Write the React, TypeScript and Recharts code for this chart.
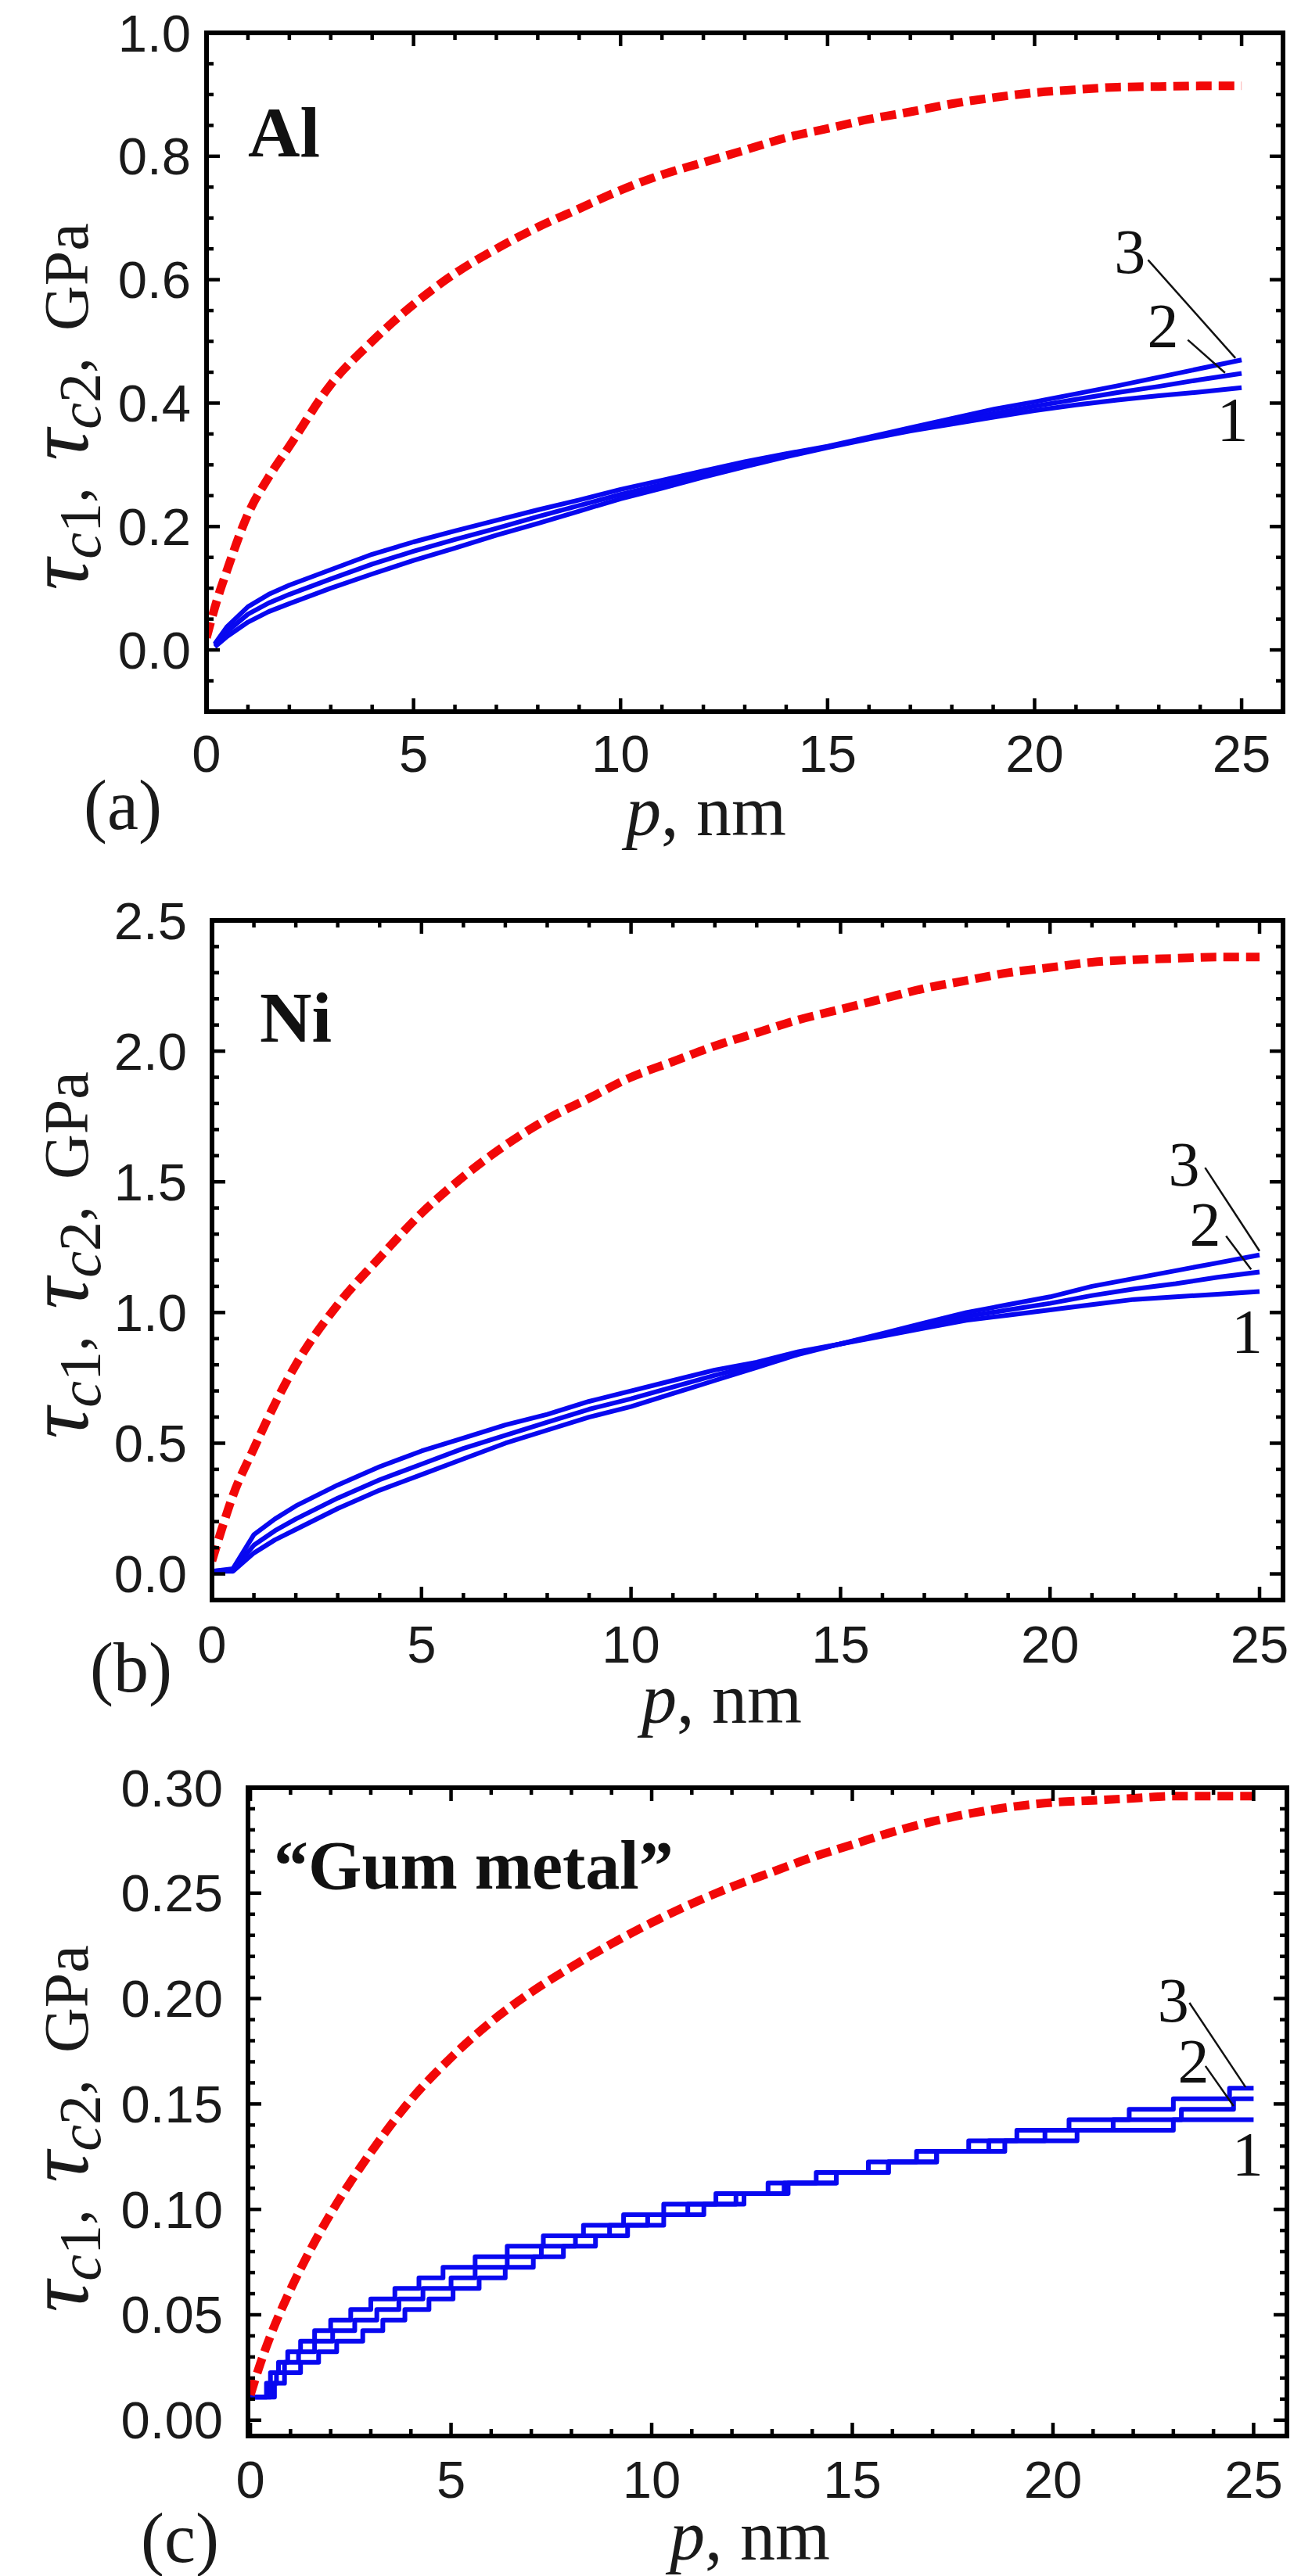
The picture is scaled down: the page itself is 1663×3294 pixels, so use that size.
import React from 'react';
import { LineChart, Line, XAxis, YAxis, ReferenceLine, ReferenceDot } from 'recharts';

const SANS = '"Liberation Sans", Arial, sans-serif';
const SERIF = '"Liberation Serif", "Times New Roman", serif';
const RED = '#f20808';
const BLUE = '#0808f0';

// ---------- (a) Al ----------
const AL_RED_P = [0, 0.25, 0.5, 1, 1.5, 2, 3, 4, 5, 6, 7, 8, 9, 10, 11, 12, 13, 14, 15, 16, 17, 18, 19, 20, 21, 22, 23, 24, 25];
const AL_RED = [0.02, 0.08, 0.13, 0.22, 0.28, 0.33, 0.43, 0.5, 0.56, 0.61, 0.65, 0.685, 0.715, 0.745, 0.77, 0.79, 0.81, 0.83, 0.845, 0.86, 0.872, 0.885, 0.895, 0.903, 0.908, 0.912, 0.913, 0.914, 0.914];
const AL_BLUE_P = [0.2, 0.5, 1, 1.5, 2, 3, 4, 5, 6, 7, 8, 9, 10, 11, 12, 13, 14, 15, 16, 17, 18, 19, 20, 21, 22, 23, 24, 25];
const AL_B1 = [0.005, 0.022, 0.045, 0.062, 0.075, 0.1, 0.123, 0.145, 0.165, 0.186, 0.205, 0.225, 0.245, 0.262, 0.28, 0.297, 0.313, 0.328, 0.342, 0.355, 0.366, 0.377, 0.388, 0.397, 0.405, 0.412, 0.418, 0.425];
const AL_B2 = [0.008, 0.03, 0.058, 0.076, 0.09, 0.115, 0.139, 0.16, 0.179, 0.197, 0.216, 0.234, 0.252, 0.268, 0.285, 0.301, 0.315, 0.329, 0.343, 0.357, 0.37, 0.383, 0.395, 0.406, 0.417, 0.427, 0.438, 0.448];
const AL_B3 = [0.01, 0.038, 0.07, 0.09, 0.105, 0.13, 0.155, 0.175, 0.193, 0.21, 0.227, 0.243, 0.26, 0.275, 0.29, 0.305, 0.318, 0.33, 0.345, 0.36, 0.375, 0.39, 0.402, 0.415, 0.428, 0.442, 0.456, 0.47];
const AL_Y_TICKS = [-0.1, -0.05, 0, 0.05, 0.1, 0.15, 0.2, 0.25, 0.3, 0.35, 0.4, 0.45, 0.5, 0.55, 0.6, 0.65, 0.7, 0.75, 0.8, 0.85, 0.9, 0.95, 1.0];
const AL_Y_LABELS = [0, 0.2, 0.4, 0.6, 0.8, 1.0];

// ---------- (b) Ni ----------
const NI_RED_P = [0, 0.25, 0.5, 1, 1.5, 2, 3, 4, 5, 6, 7, 8, 9, 10, 11, 12, 13, 14, 15, 16, 17, 18, 19, 20, 21, 22, 23, 24, 25];
const NI_RED = [0.05, 0.18, 0.3, 0.48, 0.65, 0.8, 1.03, 1.21, 1.38, 1.52, 1.64, 1.74, 1.82, 1.9, 1.96, 2.02, 2.07, 2.12, 2.16, 2.2, 2.24, 2.27, 2.3, 2.32, 2.34, 2.35, 2.355, 2.36, 2.36];
const NI_BLUE_P = [0, 0.5, 1, 1.5, 2, 3, 4, 5, 6, 7, 8, 9, 10, 11, 12, 13, 14, 15, 16, 17, 18, 19, 20, 21, 22, 23, 24, 25];
const NI_B1 = [0.01, 0.01, 0.08, 0.13, 0.17, 0.25, 0.32, 0.38, 0.44, 0.5, 0.55, 0.6, 0.64, 0.69, 0.74, 0.79, 0.84, 0.88, 0.91, 0.94, 0.97, 0.99, 1.01, 1.03, 1.05, 1.06, 1.07, 1.08];
const NI_B2 = [0.01, 0.015, 0.11, 0.165, 0.21, 0.29, 0.36, 0.42, 0.48, 0.53, 0.58, 0.63, 0.67, 0.715, 0.76, 0.8, 0.845, 0.88, 0.915, 0.95, 0.985, 1.01, 1.035, 1.065, 1.09, 1.11, 1.135, 1.155];
const NI_B3 = [0.01, 0.02, 0.15, 0.21, 0.26, 0.34, 0.41, 0.47, 0.52, 0.57, 0.61, 0.66, 0.7, 0.74, 0.78, 0.81, 0.85, 0.88, 0.92, 0.96, 1.0, 1.03, 1.06, 1.1, 1.13, 1.16, 1.19, 1.22];
const NI_Y_TICKS = [-0.1, 0, 0.1, 0.2, 0.3, 0.4, 0.5, 0.6, 0.7, 0.8, 0.9, 1.0, 1.1, 1.2, 1.3, 1.4, 1.5, 1.6, 1.7, 1.8, 1.9, 2.0, 2.1, 2.2, 2.3, 2.4, 2.5];
const NI_Y_LABELS = [0, 0.5, 1.0, 1.5, 2.0, 2.5];

// ---------- (c) Gum metal ----------
const GUM_RED_P = [0, 0.25, 0.5, 1, 1.5, 2, 3, 4, 5, 6, 7, 8, 9, 10, 11, 12, 13, 14, 15, 16, 17, 18, 19, 20, 21, 22, 23, 24, 25];
const GUM_RED = [0.012, 0.027, 0.04, 0.062, 0.081, 0.098, 0.127, 0.152, 0.172, 0.189, 0.203, 0.215, 0.226, 0.236, 0.245, 0.253, 0.26, 0.267, 0.273, 0.279, 0.284, 0.288, 0.291, 0.293, 0.294, 0.295, 0.296, 0.296, 0.296];
// step curves: p where each step starts, and the level
const GUM_B1_P = [0, 0.6, 0.85, 1.25, 1.7, 2.15, 2.8, 3.3, 3.85, 4.45, 5.05, 5.7, 6.35, 7.05, 7.8, 8.6, 9.4, 10.3, 11.3, 12.3, 13.3, 14.6, 15.9, 17.1, 18.8, 20.6, 23.0, 25];
const GUM_B1 = [0.011, 0.0175, 0.0225, 0.0275, 0.0325, 0.0375, 0.0425, 0.0475, 0.0525, 0.0575, 0.0625, 0.0675, 0.0725, 0.0775, 0.0825, 0.0875, 0.0925, 0.0975, 0.1025, 0.1075, 0.1125, 0.1175, 0.1225, 0.1275, 0.1325, 0.1375, 0.1425, 0.1425];
const GUM_B2_P = [0, 0.5, 0.65, 0.85, 1.2, 1.6, 2.05, 2.6, 3.15, 3.7, 4.3, 5.0, 5.6, 6.4, 7.25, 8.1, 8.95, 9.9, 10.9, 12.1, 13.4, 14.6, 15.9, 17.1, 18.4, 19.8, 21.5, 23.2, 24.5, 25];
const GUM_B2 = [0.011, 0.0175, 0.0225, 0.0275, 0.0325, 0.0375, 0.0425, 0.0475, 0.0525, 0.0575, 0.0625, 0.0675, 0.0725, 0.0775, 0.0825, 0.0875, 0.0925, 0.0975, 0.1025, 0.1075, 0.1125, 0.1175, 0.1225, 0.1275, 0.1325, 0.1375, 0.1425, 0.1475, 0.1525, 0.1525];
const GUM_B3_P = [0, 0.4, 0.5, 0.7, 0.93, 1.25, 1.6, 2.0, 2.5, 3.0, 3.6, 4.2, 4.8, 5.6, 6.4, 7.3, 8.3, 9.3, 10.3, 11.6, 12.9, 14.1, 15.4, 16.6, 17.9, 19.1, 20.4, 21.9, 23.0, 24.4, 25];
const GUM_B3 = [0.011, 0.0175, 0.0225, 0.0275, 0.0325, 0.0375, 0.0425, 0.0475, 0.0525, 0.0575, 0.0625, 0.0675, 0.0725, 0.0775, 0.0825, 0.0875, 0.0925, 0.0975, 0.1025, 0.1075, 0.1125, 0.1175, 0.1225, 0.1275, 0.1325, 0.1375, 0.1425, 0.1475, 0.1525, 0.1575, 0.1575];
const GUM_Y_TICKS = [0, 0.01, 0.02, 0.03, 0.04, 0.05, 0.06, 0.07, 0.08, 0.09, 0.1, 0.11, 0.12, 0.13, 0.14, 0.15, 0.16, 0.17, 0.18, 0.19, 0.2, 0.21, 0.22, 0.23, 0.24, 0.25, 0.26, 0.27, 0.28, 0.29, 0.3];
const GUM_Y_LABELS = [0, 0.05, 0.1, 0.15, 0.2, 0.25, 0.3];

const P_TICKS = [0, 1, 2, 3, 4, 5, 6, 7, 8, 9, 10, 11, 12, 13, 14, 15, 16, 17, 18, 19, 20, 21, 22, 23, 24, 25];
const P_LABELS = [0, 5, 10, 15, 20, 25];
const CURVE_NAMES = ['1', '2', '3'];

const zip = (xs: number[], ys: number[]) => xs.map((x, i) => ({ x, y: ys[i] }));

const isIn = (list: number[], v: number) => list.some((m) => Math.abs(m - v) < 1e-9);

// inward tick mark + optional label
const Tick = (props: any) => {
  const { x, y, payload, side, majors, digits, gap } = props;
  const v = payload.value;
  const major = isIn(majors, v);
  const len = major ? 17 : 9;
  let line = null;
  if (side === 'bottom') line = <line x1={x} x2={x} y1={y} y2={y - len} />;
  if (side === 'top') line = <line x1={x} x2={x} y1={y} y2={y + len} />;
  if (side === 'left') line = <line x1={x} x2={x + len} y1={y} y2={y} />;
  if (side === 'right') line = <line x1={x} x2={x - len} y1={y} y2={y} />;
  let label = null;
  if (major && side === 'bottom') {
    label = (
      <text x={x} y={y + gap} textAnchor="middle" dominantBaseline="central" fontFamily={SANS} fontSize={67} fill="#1a1a1a" stroke="none">
        {v.toFixed(digits)}
      </text>
    );
  }
  if (major && side === 'left') {
    label = (
      <text x={x - gap} y={y} textAnchor="end" dominantBaseline="central" fontFamily={SANS} fontSize={67} fill="#1a1a1a" stroke="none">
        {v.toFixed(digits)}
      </text>
    );
  }
  return (
    <g stroke="#000" strokeWidth={4.5}>
      {line}
      {label}
    </g>
  );
};

const FRAME = { stroke: '#000', strokeWidth: 6, strokeLinecap: 'square' as const };

const Panel = ({ cfg }: { cfg: any }) => {
  const { top, height, margin, xDomain, yDomain, yTicks, yLabels, yDigits, xGap, yGap, red, blues, stepped, tags, leaders } = cfg;
  // the four axes take 1px each, so pull the margins in by 1
  const m = { top: margin.top - 1, right: margin.right - 1, bottom: margin.bottom - 1, left: margin.left - 1 };
  return (
    <div style={{ position: 'absolute', left: 0, top, width: 1663, height }}>
      <LineChart width={1663} height={height} margin={m}>
        <XAxis xAxisId="b" dataKey="x" type="number" orientation="bottom" domain={xDomain} allowDataOverflow ticks={P_TICKS} interval={0} height={1} tickSize={0} tickMargin={0} tickLine={false} axisLine={FRAME} tick={<Tick side="bottom" majors={P_LABELS} digits={0} gap={xGap} />} />
        <XAxis xAxisId="t" dataKey="x" type="number" orientation="top" domain={xDomain} allowDataOverflow ticks={P_TICKS} interval={0} height={1} tickSize={0} tickMargin={0} tickLine={false} axisLine={FRAME} tick={<Tick side="top" majors={P_LABELS} />} />
        <YAxis yAxisId="l" type="number" orientation="left" domain={yDomain} allowDataOverflow ticks={yTicks} interval={0} width={1} tickSize={0} tickMargin={0} tickLine={false} axisLine={FRAME} tick={<Tick side="left" majors={yLabels} digits={yDigits} gap={yGap} />} />
        <YAxis yAxisId="r" type="number" orientation="right" domain={yDomain} allowDataOverflow ticks={yTicks} interval={0} width={1} tickSize={0} tickMargin={0} tickLine={false} axisLine={FRAME} tick={<Tick side="right" majors={yLabels} />} />
        {blues.map((b: any[], i: number) => (
          <Line key={i} xAxisId="b" yAxisId="l" data={b} dataKey="y" type={stepped ? 'stepAfter' : 'linear'} stroke={BLUE} strokeWidth={6} strokeLinejoin="round" dot={false} isAnimationActive={false} />
        ))}
        <Line xAxisId="b" yAxisId="l" data={red} dataKey="y" type="monotone" stroke={RED} strokeWidth={11} strokeDasharray="20 9" dot={false} isAnimationActive={false} />
        {leaders.map((s: any[], i: number) => (
          <ReferenceLine key={'l' + i} xAxisId="b" yAxisId="l" segment={s} stroke="#111" strokeWidth={2.5} ifOverflow="visible" />
        ))}
        {tags.map((t: any, i: number) => (
          <ReferenceDot
            key={'t' + i}
            xAxisId="b"
            yAxisId="l"
            x={t.x}
            y={t.y}
            ifOverflow="visible"
            shape={(p: any) => (
              <text x={p.cx} y={p.cy} textAnchor="middle" dominantBaseline="central" fontFamily={SERIF} fontSize={80} fill="#111">
                {CURVE_NAMES[i]}
              </text>
            )}
          />
        ))}
      </LineChart>
    </div>
  );
};

const PANELS = [
  {
    top: 0,
    height: 1100,
    margin: { top: 42, right: 23, bottom: 190, left: 264 },
    xDomain: [0, 26],
    yDomain: [-0.1, 1.0],
    yTicks: AL_Y_TICKS,
    yLabels: AL_Y_LABELS,
    yDigits: 1,
    xGap: 53,
    yGap: 20,
    red: zip(AL_RED_P, AL_RED),
    blues: [zip(AL_BLUE_P, AL_B1), zip(AL_BLUE_P, AL_B2), zip(AL_BLUE_P, AL_B3)],
    stepped: false,
    tags: [
      { x: 24.78, y: 0.373 },
      { x: 23.1, y: 0.525 },
      { x: 22.3, y: 0.645 },
    ],
    leaders: [
      [{ x: 23.7, y: 0.5025 }, { x: 24.6, y: 0.449 }],
      [{ x: 22.74, y: 0.632 }, { x: 24.85, y: 0.473 }],
    ],
  },
  {
    top: 1100,
    height: 1100,
    margin: { top: 77, right: 23, bottom: 154, left: 271 },
    xDomain: [0, 25.56],
    yDomain: [-0.1, 2.5],
    yTicks: NI_Y_TICKS,
    yLabels: NI_Y_LABELS,
    yDigits: 1,
    xGap: 56,
    yGap: 32,
    red: zip(NI_RED_P, NI_RED),
    blues: [zip(NI_BLUE_P, NI_B1), zip(NI_BLUE_P, NI_B2), zip(NI_BLUE_P, NI_B3)],
    stepped: false,
    tags: [
      { x: 24.7, y: 0.925 },
      { x: 23.7, y: 1.335 },
      { x: 23.2, y: 1.566 },
    ],
    leaders: [
      [{ x: 24.2, y: 1.293 }, { x: 24.8, y: 1.165 }],
      [{ x: 23.7, y: 1.554 }, { x: 25.0, y: 1.235 }],
    ],
  },
  {
    top: 2200,
    height: 1094,
    margin: { top: 86, right: 18, bottom: 179, left: 317 },
    xDomain: [-0.06, 25.83],
    yDomain: [-0.0075, 0.3],
    yTicks: GUM_Y_TICKS,
    yLabels: GUM_Y_LABELS,
    yDigits: 2,
    xGap: 55,
    yGap: 32,
    red: zip(GUM_RED_P, GUM_RED),
    blues: [zip(GUM_B1_P, GUM_B1), zip(GUM_B2_P, GUM_B2), zip(GUM_B3_P, GUM_B3)],
    stepped: true,
    tags: [
      { x: 24.85, y: 0.126 },
      { x: 23.5, y: 0.17 },
      { x: 23.0, y: 0.199 },
    ],
    leaders: [
      [{ x: 23.8, y: 0.168 }, { x: 24.5, y: 0.149 }],
      [{ x: 23.4, y: 0.198 }, { x: 24.8, y: 0.158 }],
    ],
  },
];

// τ is set larger than the rest, as in the original
const YTitle = ({ cx, cy }: { cx: number; cy: number }) => (
  <text transform={`translate(${cx} ${cy}) rotate(-90)`} textAnchor="middle" fontFamily={SERIF} fontSize={80} fill="#1a1a1a">
    <tspan fontStyle="italic" fontSize={112}>τ</tspan>
    <tspan fontStyle="italic" fontSize={76} dy={16}>c</tspan>
    <tspan fontSize={76}>1</tspan>
    <tspan dy={-16}>,</tspan>
    <tspan dx={34} fontStyle="italic" fontSize={112}>τ</tspan>
    <tspan fontStyle="italic" fontSize={76} dy={16}>c</tspan>
    <tspan fontSize={76}>2</tspan>
    <tspan dy={-16}>,</tspan>
    <tspan dx={34}>GPa</tspan>
  </text>
);

const XTitle = ({ x, y }: { x: number; y: number }) => (
  <text x={x} y={y} fontFamily={SERIF} fontSize={90} fill="#1a1a1a">
    <tspan fontStyle="italic">p</tspan>, nm
  </text>
);

const Tag = ({ x, y, text }: { x: number; y: number; text: string }) => (
  <text x={x} y={y} fontFamily={SERIF} fontSize={90} fill="#1a1a1a">
    {text}
  </text>
);

export default function App() {
  return (
    <div style={{ position: 'absolute', left: 0, top: 0, width: 1663, height: 3294, background: '#fff' }}>
      {PANELS.map((cfg, i) => (
        <Panel key={i} cfg={cfg} />
      ))}
      <svg width={1663} height={3294} style={{ position: 'absolute', left: 0, top: 0, pointerEvents: 'none' }}>
        <YTitle cx={112} cy={520} />
        <YTitle cx={112} cy={1605} />
        <YTitle cx={112} cy={2722} />
        <XTitle x={800} y={1068} />
        <XTitle x={820} y={2203} />
        <XTitle x={856} y={3273} />
        <Tag x={107} y={1060} text="(a)" />
        <Tag x={115} y={2163} text="(b)" />
        <Tag x={180} y={3276} text="(c)" />
        <text x={317} y={200} fontFamily={SERIF} fontWeight="bold" fontSize={92} fill="#111">Al</text>
        <text x={332} y={1332} fontFamily={SERIF} fontWeight="bold" fontSize={92} fill="#111">Ni</text>
        <text x={350} y={2415} fontFamily={SERIF} fontWeight="bold" fontSize={88} fill="#111">“Gum metal”</text>
      </svg>
    </div>
  );
}
